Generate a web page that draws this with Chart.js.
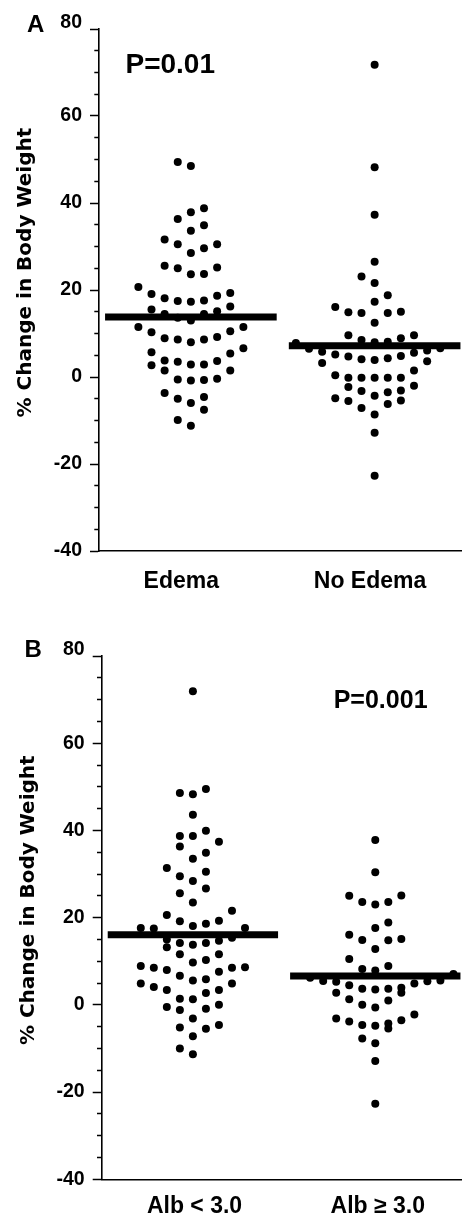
<!DOCTYPE html>
<html>
<head>
<meta charset="utf-8">
<script src="https://cdn.jsdelivr.net/npm/chart.js@4.4.1/dist/chart.umd.min.js"></script>
<style>
  html, body { margin: 0; padding: 0; background: #ffffff; }
  #wrap { position: relative; width: 465px; height: 1217px; overflow: hidden; background: #fff; }
  #ca { position: absolute; left: 0; top: 0; }
  #cb { position: absolute; left: 0; top: 600px; }
</style>
</head>
<body>
<div id="wrap">
  <canvas id="ca" width="465" height="600"></canvas>
  <canvas id="cb" width="465" height="617"></canvas>
</div>
<script>
// ---------------- DATA ----------------
const yMajorTicks = [-40, -20, 0, 20, 40, 60, 80];
const yMin = -40, yMax = 80, yMinorStep = 5;

// Panel A
const panelACategories = ['Edema', 'No Edema'];
const panelALabelPos = [0.948, 1.975];
const panelAMeans = [13.8, 7.2];
const panelAP = 'P=0.01';

const edemaVals = [49.4, 48.5, 38.8, 37.9, 36.3, 34.9, 33.6, 31.6, 30.5, 30.5, 29.6, 28.5, 25.6, 25.0, 25.2, 23.6, 23.7,
  20.7, 19.1, 18.1, 17.5, 17.3, 17.6, 18.7, 19.3,
  15.5, 14.5, 13.6, 13.0, 14.5, 15.1, 16.2,
  11.5, 10.3, 8.9, 8.6, 8.0, 8.6, 9.2, 10.5, 11.5,
  5.7, 5.4, 6.6,
  2.7, 3.8, 3.5, 2.9, 2.9, 3.7, 1.5, 1.5,
  -0.6, -0.8, -0.7, -0.4,
  -3.7, -5.0, -6.0, -4.6, -7.5,
  -9.9, -11.2];
const edemaSlots = [-1, 0, 1, 0, -1, 1, 0, -2, -1, 2, 1, 0, -2, -1, 2, 0, 1,
  -4, -3, -2, -1, 0, 1, 2, 3,
  -3, -2, -1, 0, 1, 2, 3,
  -4, -3, -2, -1, 0, 1, 2, 3, 4,
  -3, 3, 4,
  -3, -2, -1, 0, 1, 2, -2, 3,
  -1, 0, 1, 2,
  -2, -1, 0, 1, 1,
  -1, 0];

const noEdemaVals = [71.8, 48.2, 37.3, 26.5, 23.1, 21.6, 18.8, 17.3,
  16.1, 14.9, 14.7, 14.7, 15.0, 12.5,
  9.6, 9.6, 8.5, 8.0, 8.1, 8.9,
  7.8, 6.5, 5.8, 5.2, 4.7, 4.1, 3.9, 4.3, 4.8, 5.6, 6.1, 6.6,
  3.2, 3.6,
  0.4, -0.2, -0.2, -0.2, -0.2, -0.2, 1.5,
  -2.3, -3.2, -4.3, -3.5, -3.1, -2.0,
  -4.9, -5.5, -7.1, -8.6, -6.2, -5.4,
  -12.8, -22.7];
const noEdemaSlots = [0, 0, 0, 0, -1, 0, 1, 0,
  -3, -2, -1, 1, 2, 0,
  -2, 3, -1, 0, 1, 2,
  -6, -5, -4, -3, -2, -1, 0, 1, 2, 3, 4, 5,
  -4, 4,
  -3, -2, -1, 0, 1, 2, 3,
  -2, -1, 0, 1, 2, 3,
  -3, -2, -1, 0, 1, 2,
  0, 0];

// Panel B
const panelBCategories = ['Alb < 3.0', 'Alb \u2265 3.0'];
const panelBLabelPos = [1.009, 2.0135];
const panelBMeans = [16.1, 6.6];
const panelBP = 'P=0.001';

const lowAlbVals = [71.9,
  48.6, 48.3, 49.5, 43.6,
  38.7, 38.7, 39.9, 37.4,
  36.3, 34.9, 33.5,
  31.4, 30.5, 29.5, 28.4, 26.7, 25.6, 23.5,
  20.6, 21.6, 19.2, 19.3, 18.1, 18.6,
  17.6, 17.5, 17.6,
  15.0, 13.2, 14.2, 13.8, 14.2, 14.7, 15.4,
  11.6, 11.6, 9.7, 10.3,
  8.9, 8.5, 8.0, 6.7, 5.6, 5.9, 7.6, 8.5, 8.6,
  4.9, 4.1, 3.4, 3.4, 4.9, 2.7,
  1.4, 1.3,
  -0.5, -1.2, -0.9, 0.0,
  -3.1, -5.2, -5.5, -4.6,
  -7.2, -10.0, -11.3];
const lowAlbSlots = [0,
  -1, 0, 1, 0,
  -1, 0, 1, 2,
  -1, 1, 0,
  -2, 1, -1, 0, 1, -1, 0,
  -2, 3, -1, 2, 0, 1,
  -4, -3, 4,
  -2, -2, -1, 0, 1, 2, 3,
  -1, 2, 0, 1,
  -4, -3, -2, -1, 0, 1, 2, 3, 4,
  -4, -3, -2, 2, 3, 1,
  -1, 0,
  -2, -1, 1, 2,
  0, -1, 1, 2,
  0, -1, 0];

const highAlbVals = [37.8, 30.4,
  25.0, 25.1, 23.6, 23.0, 23.6,
  18.9, 17.6, 16.1, 14.9, 14.8, 15.1, 12.8,
  10.5, 8.9, 8.2, 7.9,
  6.2, 5.5, 5.3, 4.5, 3.7, 3.5, 3.7, 3.9, 4.9, 5.4, 5.6, 7.1,
  2.8, 2.8,
  1.3, 1.0, 0.0, -0.6,
  -3.1, -3.8, -4.6, -4.8, -4.3, -5.4, -3.5, -2.2,
  -7.7, -8.8,
  -12.9, -22.7];
const highAlbSlots = [0, 0,
  -2, 2, -1, 0, 1,
  1, 0, -2, -1, 1, 2, 0,
  -2, 1, -1, 0,
  -5, -4, -3, -2, -1, 0, 1, 2, 3, 4, 5, 6,
  -3, 2,
  -2, 1, -1, 0,
  -3, -2, -1, 0, 1, 1, 2, 3,
  -1, 0,
  0, 0];

// ---------------- STYLE / LAYOUT CONSTANTS ----------------
const SANS = '"Liberation Sans", Arial, Helvetica, sans-serif';
const WIDE = '"DejaVu Sans", Verdana, sans-serif';
const COL = 1 / 14;       // swarm column spacing (x units)
const HALF = 0.467;       // half-width of mean bar (x units)
const X_MIN = 0.5, X_MAX = 2.47;

function dots(center, vals, slots) {
  return vals.map((v, i) => ({ x: center + slots[i] * COL, y: v }));
}
function meanBar(center, m) {
  return [{ x: center - HALF, y: m }, { x: center + HALF, y: m }];
}

const annotPlugin = {
  id: 'annot',
  afterDraw(chart, args, o) {
    const { ctx } = chart;
    const xs = chart.scales.x, ys = chart.scales.y;
    ctx.save();
    ctx.fillStyle = '#000';
    ctx.textAlign = 'left';
    ctx.textBaseline = 'alphabetic';
    ctx.font = 'bold ' + o.letterSize + 'px ' + SANS;
    ctx.fillText(o.letter, o.letterX, o.letterY);
    ctx.font = 'bold ' + o.pSize + 'px ' + SANS;
    ctx.fillText(o.pText, xs.getPixelForValue(o.pX), ys.getPixelForValue(o.pY));
    ctx.restore();
  }
};

function build(canvasId, p) {
  const dotStyle = {
    type: 'scatter', order: 1,
    pointRadius: 4, pointHoverRadius: 4,
    pointBackgroundColor: '#000', pointBorderWidth: 0, showLine: false
  };
  const barStyle = {
    type: 'scatter', order: 0, showLine: true,
    borderColor: '#000', borderWidth: 7, borderCapStyle: 'butt',
    pointRadius: 0, pointHoverRadius: 0
  };
  return new Chart(document.getElementById(canvasId), {
    type: 'scatter',
    data: {
      datasets: [
        Object.assign({ data: meanBar(1, p.means[0]) }, barStyle),
        Object.assign({ data: meanBar(2, p.means[1]) }, barStyle),
        Object.assign({ data: dots(1, p.vals[0], p.slots[0]) }, dotStyle),
        Object.assign({ data: dots(2, p.vals[1], p.slots[1]) }, dotStyle)
      ]
    },
    options: {
      responsive: false,
      devicePixelRatio: 1,
      animation: false,
      events: [],
      layout: { padding: { top: p.padTop, left: 0, right: 0, bottom: 0 } },
      plugins: {
        legend: { display: false },
        tooltip: { enabled: false },
        annot: p.annot
      },
      scales: {
        x: {
          type: 'linear', min: X_MIN, max: X_MAX,
          afterBuildTicks: s => { s.ticks = p.labelPos.map(v => ({ value: v })); },
          afterFit: s => { s.height = p.xAxisHeight; },
          ticks: {
            autoSkip: false, maxRotation: 0,
            callback: (v, i) => p.categories[i],
            color: '#000',
            font: { family: SANS, size: 23, weight: 'bold', lineHeight: 1.2 },
            padding: p.xPad
          },
          grid: { display: false, drawTicks: false },
          border: { display: true, color: '#000', width: 1.6 }
        },
        y: {
          type: 'linear', min: yMin, max: yMax,
          afterFit: s => { s.width = p.yAxisWidth; },
          ticks: {
            stepSize: yMinorStep, autoSkip: false,
            callback: v => yMajorTicks.includes(v) ? (v === yMax ? [String(v), ''] : String(v)) : '',
            color: '#000',
            font: { family: SANS, size: 19.5, weight: 'bold', lineHeight: 0.65 },
            padding: 8
          },
          grid: {
            drawOnChartArea: false, drawTicks: true, tickLength: 9,
            tickColor: '#000', tickWidth: 1.5,
            tickBorderDash: c => (c.tick && yMajorTicks.includes(c.tick.value)) ? [] : [0, 4.3, 20]
          },
          border: { display: true, color: '#000', width: 1.6 },
          title: {
            display: true,
            text: '     % Change in Body Weight',
            color: '#000',
            font: { family: WIDE, size: 20, weight: 'bold', lineHeight: 1.2 },
            padding: { top: p.titlePad, bottom: 0 }
          }
        }
      }
    },
    plugins: [annotPlugin]
  });
}

build('ca', {
  categories: panelACategories, labelPos: panelALabelPos, means: panelAMeans,
  vals: [edemaVals, noEdemaVals], slots: [edemaSlots, noEdemaSlots],
  padTop: 29, xAxisHeight: 49, yAxisWidth: 99, xPad: 16.5, titlePad: 13.9,
  annot: { letter: 'A', letterSize: 24, letterX: 27, letterY: 31.5,
           pText: panelAP, pSize: 28, pX: 0.644, pY: 70 }
});

build('cb', {
  categories: panelBCategories, labelPos: panelBLabelPos, means: panelBMeans,
  vals: [lowAlbVals, highAlbVals], slots: [lowAlbSlots, highAlbSlots],
  padTop: 56, xAxisHeight: 37.7, yAxisWidth: 101.7, xPad: 13.7, titlePad: 16.7,
  annot: { letter: 'B', letterSize: 24, letterX: 24.5, letterY: 57.3,
           pText: panelBP, pSize: 25, pX: 1.772, pY: 68 }
});
</script>
</body>
</html>
